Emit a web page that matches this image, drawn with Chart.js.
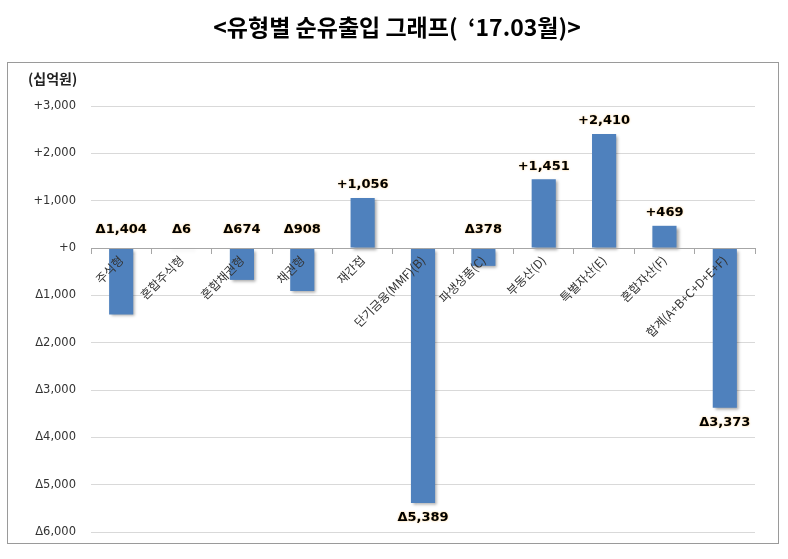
<!DOCTYPE html>
<html>
<head>
<meta charset="utf-8">
<script src="https://cdn.jsdelivr.net/npm/chart.js@4"></script>
<style>
  body { margin: 0; background: #fff; }
</style>
</head>
<body>
<canvas id="chart" width="788" height="559"></canvas>
<script>
const categories = ['주식형', '혼합주식형', '혼합채권형', '채권형', '재간접', '단기금융(MMF)(B)', '파생상품(C)', '부동산(D)', '특별자산(E)', '혼합자산(F)', '합계(A+B+C+D+E+F)'];
const values = [-1404, -6, -674, -908, 1056, -5389, -378, 1451, 2410, 469, -3373];
const yTicks = [3000, 2000, 1000, 0, -1000, -2000, -3000, -4000, -5000, -6000];

const titleText = '<유형별 순유출입 그래프(  \u201817.03월)>';
const unitText = '(십억원)';

function fmt(v) {
  const s = Math.abs(v).toLocaleString('en-US');
  return v < 0 ? 'Δ' + s : '+' + s;
}

// 제목, 테두리, 단위
const framePlugin = {
  id: 'frame',
  beforeDraw(chart) {
    const ctx = chart.ctx;
    ctx.save();
    ctx.fillStyle = '#fff';
    ctx.fillRect(0, 0, chart.width, chart.height);
    ctx.strokeStyle = '#9a9a9a';
    ctx.lineWidth = 1;
    ctx.strokeRect(7.5, 62.5, 771, 481);
    ctx.fillStyle = '#000';
    ctx.textAlign = 'center';
    ctx.textBaseline = 'middle';
    ctx.font = 'bold 23px "Noto Sans CJK KR"';
    ctx.fillText(titleText, 397, 27);
    ctx.textAlign = 'left';
    ctx.font = 'bold 14px "Noto Sans CJK KR"';
    ctx.fillStyle = '#222';
    ctx.fillText(unitText, 28, 79);
    ctx.restore();
  }
};

// 막대 그림자
const shadowPlugin = {
  id: 'barShadow',
  beforeDatasetsDraw(chart) {
    const ctx = chart.ctx;
    ctx.save();
    ctx.shadowColor = 'rgba(0,0,0,0.35)';
    ctx.shadowBlur = 3;
    ctx.shadowOffsetX = 2;
    ctx.shadowOffsetY = 2;
  },
  afterDatasetsDraw(chart) {
    chart.ctx.restore();
  }
};

// 값 라벨
const labelPlugin = {
  id: 'valueLabels',
  afterDatasetsDraw(chart) {
    const ctx = chart.ctx;
    const meta = chart.getDatasetMeta(0);
    const zero = chart.scales.y.getPixelForValue(0);
    ctx.save();
    ctx.font = 'bold 13px "DejaVu Sans"';
    ctx.textAlign = 'center';
    ctx.textBaseline = 'middle';
    ctx.fillStyle = '#000';
    ctx.shadowColor = 'rgba(255,180,60,0.7)';
    ctx.shadowBlur = 2;
    meta.data.forEach((bar, i) => {
      const v = values[i];
      let y;
      if (v > 0) y = bar.y - 13;
      else if (v < -2000) y = bar.y + 15;
      else y = zero - 18;
      ctx.fillText(fmt(v), bar.x, y);
    });
    ctx.restore();
  }
};

new Chart(document.getElementById('chart').getContext('2d'), {
  type: 'bar',
  data: {
    labels: categories,
    datasets: [{
      data: values,
      backgroundColor: '#4f81bd',
      borderWidth: 0,
      categoryPercentage: 1,
      barPercentage: 0.4
    }]
  },
  options: {
    responsive: false,
    animation: false,
    layout: { padding: { top: 106, bottom: 27, right: 33, left: 0 } },
    plugins: {
      legend: { display: false },
      tooltip: { enabled: false }
    },
    scales: {
      x: {
        position: { y: 0 },
        z: 1,
        grid: { drawOnChartArea: false, drawTicks: true, tickLength: 5, color: '#a6a6a6', z: 1 },
        border: { color: '#a6a6a6', z: 1 },
        ticks: {
          z: 1,
          autoSkip: false,
          minRotation: 45,
          maxRotation: 45,
          padding: 0,
          color: '#333',
          font: { family: '"Noto Sans CJK KR"', size: 12 }
        }
      },
      y: {
        min: -6000,
        max: 3000,
        afterFit(scale) { scale.width = 91; },
        afterBuildTicks(scale) { scale.ticks = yTicks.map(v => ({ value: v })); },
        grid: { color: '#d9d9d9', drawTicks: false },
        border: { display: false },
        ticks: {
          padding: 15,
          color: '#333',
          font: { family: '"DejaVu Sans"', size: 11.5 },
          callback: v => fmt(v)
        }
      }
    }
  },
  plugins: [framePlugin, shadowPlugin, labelPlugin]
});
</script>
</body>
</html>
